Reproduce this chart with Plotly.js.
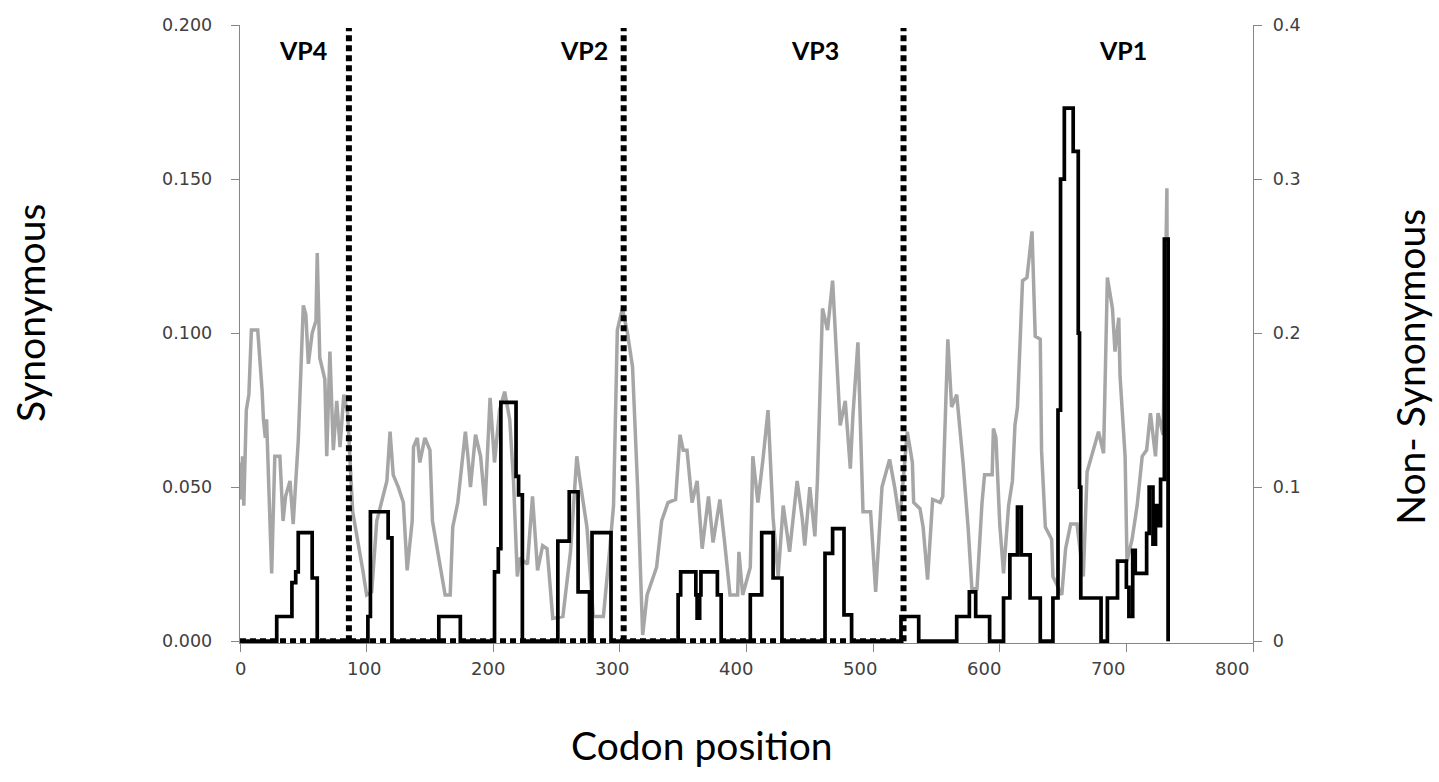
<!DOCTYPE html>
<html><head><meta charset="utf-8">
<script src="https://cdn.plot.ly/plotly-3.0.1.min.js"></script>
<style>html,body{margin:0;padding:0;background:#fff}#chart{width:1439px;height:782px}</style>
</head><body><div id="chart"></div>
<script>
// Synonymous (left axis, grey)
const synX = [0,1,2,3,5,7,9,14,17.5,18.5,20,21,25,27.5,31.5,34,36,39.5,42,46,50,52,54,57,60,61,63,65,67,68.5,71,73.7,76.4,79,82,85,89,97,100,104,108,116,118.5,121,125,129,132,136,137,140,142,146,150,152,155.6,162,166,168,172,178,180,182,186,190,193.5,197.5,201,205,209,213,216,219,221,227,231,235,239,242.5,247,255,261,266,268.5,274,279,287,292,295,298,302,306,310,314,318,321.5,329,333,338,344,347.5,350,353,357,361,365,370,373.6,379,383,387,393,394,397,403,405,409,413,417,421,425,429,434,440,444,446,450,454,456,460,464,468,470,474,478,482,484,488,492,498,502,504,507,513,517,521,527,531,532,537,539.5,543,547,553,555,559,562,566,569,571,575,578,582,586,588,594,595,597,600,603,607,610,612,614,618,621.5,625.5,628,632,633,636,641,642,649,652,656,661,666,669,674,678,682,685,689,691,694,695,699,700.5,704.5,708.5,712.5,716,719,723,725,729,732,733];
const synY = [0.058,0.046,0.060,0.044,0.075,0.080,0.101,0.101,0.081,0.072,0.066,0.072,0.022,0.060,0.060,0.039,0.047,0.052,0.038,0.065,0.109,0.106,0.090,0.100,0.104,0.126,0.092,0.088,0.085,0.060,0.094,0.062,0.078,0.063,0.080,0.074,0.042,0.023,0.015,0.016,0.039,0.052,0.068,0.054,0.050,0.045,0.023,0.039,0.063,0.066,0.058,0.066,0.062,0.039,0.030,0.015,0.015,0.037,0.045,0.068,0.060,0.050,0.067,0.060,0.044,0.079,0.058,0.075,0.081,0.072,0.052,0.021,0.027,0.025,0.047,0.023,0.031,0.030,0.0074,0.008,0.029,0.060,0.052,0.037,0.008,0.008,0.030,0.044,0.101,0.108,0.100,0.089,0.050,0.002,0.015,0.024,0.039,0.045,0.046,0.067,0.062,0.062,0.045,0.052,0.030,0.047,0.032,0.046,0.031,0.015,0.015,0.029,0.015,0.024,0.060,0.045,0.059,0.075,0.040,0.021,0.044,0.029,0.052,0.040,0.031,0.050,0.034,0.052,0.108,0.101,0.117,0.101,0.070,0.078,0.056,0.073,0.097,0.042,0.042,0.016,0.030,0.050,0.059,0.050,0.039,0.068,0.058,0.045,0.043,0.037,0.020,0.046,0.045,0.047,0.098,0.076,0.080,0.067,0.058,0.037,0.017,0.017,0.045,0.054,0.054,0.069,0.066,0.038,0.022,0.044,0.052,0.070,0.076,0.117,0.118,0.133,0.099,0.098,0.062,0.037,0.033,0.021,0.015,0.030,0.038,0.038,0.021,0.055,0.062,0.068,0.061,0.118,0.108,0.094,0.105,0.086,0.060,0.026,0.033,0.044,0.060,0.062,0.074,0.060,0.074,0.067,0.147,0];

// Non-synonymous (right axis, black, step values)
const nonX = [0,29,41,44,46,57,61,101,103,117,120,157,174,201,204,206,218,220,223,251,260,267,276,278,293,346,348,360,361,363,364,377,380,403,412,421,428,462,468,477,483,522,536,566,576,581,592,603,608,614,617,624,632,642,646,648,651,658,662,663,664,680,685,693,700,702,705,707,716,718,721,723,725,727,730,733];
const nonY = [0,0.016,0.038,0.045,0.0705,0.041,0,0.016,0.084,0.067,0,0.016,0,0.045,0.060,0.155,0.107,0.095,0,0.065,0.097,0.032,0,0.0705,0,0.030,0.045,0.030,0.015,0.030,0.045,0.030,0,0.030,0.0705,0.041,0,0.057,0.073,0.017,0,0.016,0,0.016,0.032,0.016,0,0.028,0.056,0.087,0.056,0.028,0,0.028,0.15,0.30,0.346,0.318,0.20,0.10,0.028,0,0.028,0.052,0.035,0.016,0.059,0.044,0.070,0.100,0.063,0.088,0.075,0.105,0.261,0];

// Capsid region boundaries (codon) and labels
const boundaries = [86, 303, 524];
const boundaryTop = 0.199;
const regionNames = ['VP4', 'VP2', 'VP3', 'VP1'];
const regionLabelX = [50, 272, 454, 697];

const xTicks = [0,100,200,300,400,500,600,700,800];
const leftTicks = [0,0.05,0.1,0.15,0.2];
const rightTicks = [0,0.1,0.2,0.3,0.4];

// dotted boundary series: baseline to last boundary + vertical lines
const dotX = [0, boundaries[boundaries.length-1]];
const dotY = [0, 0];
boundaries.forEach(b => { dotX.push(null, b, b); dotY.push(null, 0, boundaryTop); });

const axisGrey = '#868686';
const tickFont = {family: 'DejaVu Sans', size: 17.5, color: '#404040'};
const xLabelFont = {family: 'DejaVu Sans', size: 18, color: '#404040'};
const xMax = 800;
const labelSpan = 992 / 1013; // x tick labels in the reference sit slightly compressed

const traces = [
  {x: synX, y: synY, type: 'scatter', mode: 'lines', xaxis: 'x', yaxis: 'y',
   line: {color: '#A6A6A6', width: 3.5}, hoverinfo: 'skip'},
  {x: dotX, y: dotY, type: 'scatter', mode: 'lines', xaxis: 'x', yaxis: 'y',
   line: {color: '#000000', width: 6, dash: '6px,4px'}, connectgaps: false, hoverinfo: 'skip'},
  {x: nonX, y: nonY, type: 'scatter', mode: 'lines', xaxis: 'x', yaxis: 'y2',
   line: {color: '#000000', width: 3.7, shape: 'hv'}, hoverinfo: 'skip'}
];

const annotations = regionNames.map((n, i) => ({
  text: n, x: regionLabelX[i], xref: 'x', y: 0.96, yref: 'paper',
  xanchor: 'center', yanchor: 'middle', showarrow: false,
  font: {family: 'Lato', size: 25, color: '#000', weight: 'bold'}
}));
xTicks.forEach(t => annotations.push({
  text: String(t), x: t / xMax * labelSpan, xref: 'paper', y: -0.0405, yref: 'paper',
  xanchor: 'center', yanchor: 'middle', showarrow: false, font: xLabelFont
}));
annotations.push(
  {text: 'Synonymous', x: -0.2073, y: 0.534, xref: 'paper', yref: 'paper', textangle: -90,
   xanchor: 'center', yanchor: 'middle', showarrow: false, font: {family: 'Lato', size: 39, color: '#000'}},
  {text: 'Non- Synonymous', x: 1.155, y: 0.447, xref: 'paper', yref: 'paper', textangle: -90,
   xanchor: 'center', yanchor: 'middle', showarrow: false, font: {family: 'Lato', size: 39, color: '#000'}},
  {text: 'Codon position', x: 0.456, y: -0.165, xref: 'paper', yref: 'paper',
   xanchor: 'center', yanchor: 'middle', showarrow: false, font: {family: 'Lato', size: 39, color: '#000'}}
);

const layout = {
  width: 1439, height: 782,
  margin: {l: 240, r: 186, t: 25, b: 139, pad: 0},
  paper_bgcolor: '#fff', plot_bgcolor: '#fff',
  showlegend: false,
  xaxis: {range: [0, xMax], tickvals: xTicks, showticklabels: false, ticks: 'outside', ticklen: 8,
          tickcolor: axisGrey, showline: true, linecolor: axisGrey, linewidth: 1.3, showgrid: false,
          zeroline: false, anchor: 'y'},
  yaxis: {range: [-0.0006, 0.2], tickvals: leftTicks, tickformat: '.3f', ticks: 'outside', ticklen: 8,
          tickcolor: axisGrey, showline: true, linecolor: axisGrey, linewidth: 1.3, showgrid: false,
          zeroline: false, tickfont: tickFont, ticklabelstandoff: 15},
  yaxis2: {range: [-0.0012, 0.4], tickvals: rightTicks, overlaying: 'y', side: 'right', anchor: 'x',
           ticks: 'outside', ticklen: 8, tickcolor: axisGrey, showline: true, linecolor: axisGrey,
           linewidth: 1.3, showgrid: false, zeroline: false, tickfont: tickFont, ticklabelstandoff: 7},
  annotations: annotations
};

Plotly.newPlot('chart', traces, layout, {displayModeBar: false, staticPlot: true});
</script></body></html>
